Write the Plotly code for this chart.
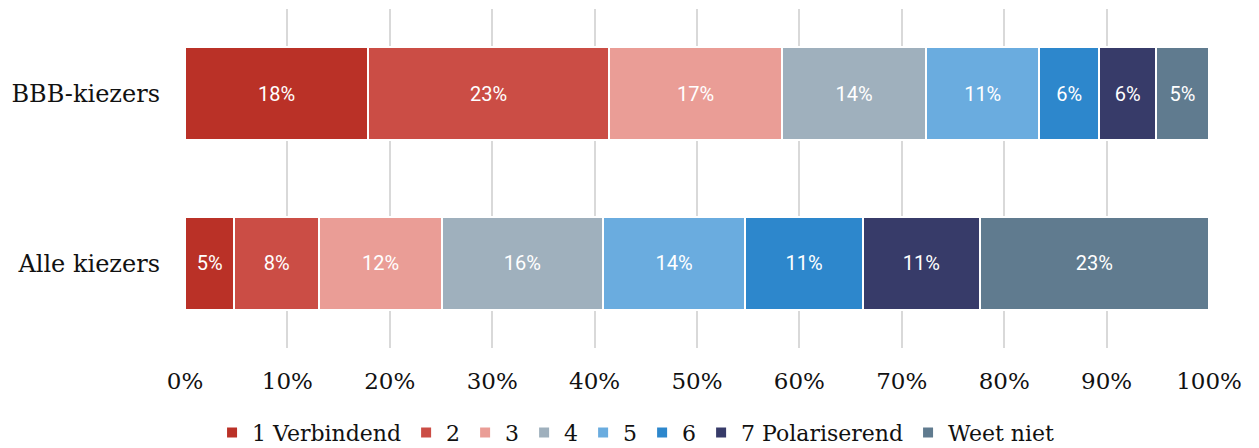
import plotly.graph_objects as go

categories = ["Alle kiezers", "BBB-kiezers"]
series_names = ["1 Verbindend", "2", "3", "4", "5", "6", "7 Polariserend", "Weet niet"]
bbb_values = [17.9, 23.5, 16.9, 14.1, 11.0, 5.9, 5.5, 5.2]
alle_values = [4.8, 8.3, 12.0, 15.7, 13.9, 11.5, 11.4, 22.4]
bbb_labels = ["18%", "23%", "17%", "14%", "11%", "6%", "6%", "5%"]
alle_labels = ["5%", "8%", "12%", "16%", "14%", "11%", "11%", "23%"]
colors = ["#BA3127", "#CB4D45", "#EA9D96", "#9FB0BD", "#6AACDF", "#2D87CC", "#373B69", "#607B8F"]
tick_vals = [0, 10, 20, 30, 40, 50, 60, 70, 80, 90, 100]
tick_text = ["0%", "10%", "20%", "30%", "40%", "50%", "60%", "70%", "80%", "90%", "100%"]

SERIF = "DejaVu Serif"

fig = go.Figure()
for i, name in enumerate(series_names):
    fig.add_trace(go.Bar(
        name=name,
        orientation="h",
        y=categories,
        x=[alle_values[i], bbb_values[i]],
        text=[alle_labels[i], bbb_labels[i]],
        textposition="inside",
        insidetextanchor="middle",
        constraintext="none",
        textangle=0,
        textfont=dict(family="Roboto", size=20, color="white"),
        marker=dict(color=colors[i], line=dict(color="white", width=2)),
        hoverinfo="skip",
    ))

# the page body adds an 8px offset, so the figure is sized/offset to compensate
fig.update_layout(
    barmode="stack",
    bargap=0.45,
    width=1251,
    height=440,
    margin=dict(l=177, r=50, t=1, b=100, autoexpand=False),
    paper_bgcolor="white",
    plot_bgcolor="white",
    legend=dict(
        orientation="h",
        x=0.44, xanchor="center",
        y=-0.25, yanchor="middle",
        font=dict(family=SERIF, size=22, color="#111111"),
        itemwidth=30,
        tracegroupgap=0,
        traceorder="normal",
    ),
    xaxis=dict(
        range=[0, 100],
        tickvals=tick_vals,
        ticktext=tick_text,
        showgrid=True,
        gridcolor="#d9d9d9",
        gridwidth=2,
        zeroline=False,
        showline=False,
        ticks="",
        automargin=False,
        ticklabelstandoff=17,
        tickfont=dict(family=SERIF, size=23, color="#111111"),
        fixedrange=True,
    ),
    yaxis=dict(
        categoryorder="array",
        categoryarray=categories,
        showgrid=False,
        zeroline=False,
        showline=False,
        ticks="",
        automargin=False,
        ticklabelstandoff=24,
        tickfont=dict(family=SERIF, size=24, color="#111111"),
        fixedrange=True,
    ),
)

fig.write_html("out.html")
